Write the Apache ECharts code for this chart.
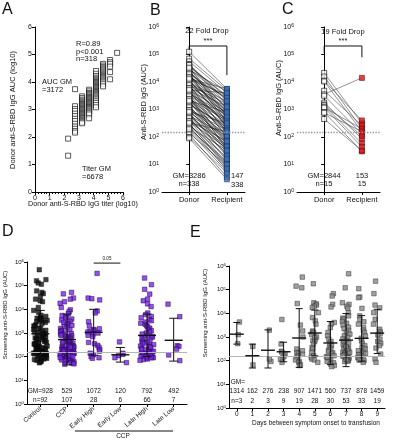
<!DOCTYPE html>
<html><head><meta charset="utf-8">
<script src="https://cdn.jsdelivr.net/npm/echarts@6/dist/echarts.min.js"></script>
<style>html,body{margin:0;padding:0;background:#fff}#c{width:402px;height:440px}</style>
</head><body><div id="c"></div>
<script>
const FONT = '"Liberation Sans", Arial, sans-serif';

// ---------- Panel A (log10 titer vs log10 AUC) ----------
const titerA = [2.26, 2.73, 3.21, 3.69, 4.16, 4.64, 5.12, 5.60];
const aucA0 = [1.94, 1.32];
const aucA1 = [3.74, 3.12, 3.02, 2.95, 2.85, 2.76, 2.66, 2.58, 2.48, 2.38, 2.30, 2.22, 2.16];
const aucA2 = [3.48, 3.42, 3.36, 3.32, 3.28, 3.24, 3.20, 3.17, 3.14, 3.11, 3.08, 3.05, 3.02, 2.99, 2.96, 2.93, 2.90, 2.87, 2.84, 2.81, 2.78, 2.75, 2.72, 2.69, 2.66, 2.62, 2.58, 2.54, 2.50];
const aucA3 = [3.72, 3.66, 3.60, 3.56, 3.52, 3.48, 3.45, 3.42, 3.39, 3.36, 3.33, 3.30, 3.27, 3.24, 3.21, 3.18, 3.15, 3.12, 3.09, 3.06, 3.03, 3.00, 2.96, 2.92, 2.88, 2.82, 2.68];
const aucA4 = [4.40, 4.30, 4.22, 4.16, 4.12, 4.08, 4.04, 4.00, 3.97, 3.94, 3.91, 3.88, 3.85, 3.82, 3.79, 3.76, 3.73, 3.70, 3.67, 3.64, 3.61, 3.58, 3.55, 3.52, 3.48, 3.44, 3.40, 3.36, 3.30, 3.24, 3.16, 3.08];
const aucA5 = [4.66, 4.60, 4.55, 4.50, 4.46, 4.42, 4.38, 4.34, 4.30, 4.26, 4.22, 4.18, 4.14, 4.10, 4.06, 4.02, 3.98, 3.92, 3.84];
const aucA6 = [4.80, 4.72, 4.66, 4.56, 4.36, 4.10];
const aucA7 = [5.06];
const aucA = [aucA0, aucA1, aucA2, aucA3, aucA4, aucA5, aucA6, aucA7];

// ---------- Panel B (paired donor / recipient AUC) ----------
const groupsBC = ['Donor', 'Recipient'];
const donorB = [126000, 71000, 56000, 45000, 35000, 32000, 28000, 25000, 22000, 20000, 18000, 16000, 14000, 12600, 11200, 10000, 8900, 7900, 7100, 6300, 5600, 5000, 4500, 4000, 3500, 3200, 2800, 2500, 2200, 2000, 1800, 1600, 1400, 1260, 1120, 1000, 890, 790, 710, 630, 560, 500, 450, 400, 355, 316, 280, 250, 200, 160, 140, 126, 100, 90, 40000, 16000, 7900, 4000, 2000, 1000, 500, 10000, 2800, 5600, 224, 20000,
  41700, 30200, 24000, 19000, 15100, 12000, 9550, 7600, 6030, 4790, 3800, 3020, 2400, 1900, 1510, 1200, 955, 760, 600, 480, 380, 300, 240, 190, 33000, 13200, 5250, 2090, 830, 330];
const recipB = [5600, 5000, 4000, 2000, 3200, 1000, 4500, 790, 1600, 2500, 500, 1260, 630, 3500, 320, 890, 400, 1600, 250, 560, 160, 790, 355, 200, 112, 450, 140, 79, 280, 56, 100, 220, 40, 71, 126, 28, 50, 89, 20, 35, 63, 14, 25, 11, 40, 8, 18, 6.3, 13, 5.6, 9, 3.5, 5, 2.9, 2800, 400, 710, 316, 180, 100, 45, 1000, 35, 280, 10, 700,
  1580, 2240, 1120, 355, 2800, 224, 2000, 141, 1260, 100, 630, 63, 400, 45, 251, 32, 178, 22, 112, 16, 71, 10, 32, 7.1, 560, 5600, 4000, 790, 316, 158];

// ---------- Panel C ----------
const donorC = [21400, 15800, 11200, 10500, 4800, 3550, 3160, 1780, 1510, 1410, 1200, 1170, 790, 760, 450];
const recipC = [316, 200, 400, 158, 263, 14100, 132, 87, 110, 58, 44, 200, 30, 158, 32];

const cutoff = 150;

// ---------- Panel D ----------
const catD = ['Control', 'CCP', 'Early High', 'Early Low', 'Late High', 'Late Low'];
const ctrlD = [470000, 180000, 160000, 130000, 115000, 60000, 52000, 46000, 36000, 27000, 23000, 21000, 12000, 9000, 7400,
  5600, 5000, 4500, 4200, 4000, 3800, 3600, 3400, 3200, 3000, 2800,
  2500, 2200, 2000, 1800, 1600, 1500, 1400, 1300, 1200, 1100, 1000,
  950, 900, 850, 800, 750, 700, 650, 620, 580, 540, 500, 470, 440, 410,
  380, 360, 340, 320, 300, 280, 260, 250, 240, 230, 220, 210, 200, 190, 180, 170, 165,
  160, 155, 150, 145, 140, 135, 130, 125, 120, 115, 110, 105, 100, 95, 90, 85, 80, 75, 70, 65, 60, 55, 130, 145];
const ccpD = [52000, 45000, 30000, 27000, 21000, 18000, 12000, 9500, 8000, 6500, 5500, 4800,
  4300, 3900, 3500, 3100, 2800, 2500, 2300, 2100, 1900, 1700, 1550, 1400, 1300, 1200, 1100, 1000,
  950, 900, 850, 800, 760, 720, 680, 640, 600, 570, 540, 510, 480, 450, 420, 400, 380, 360, 340, 320,
  300, 290, 280, 270, 260, 250, 240, 230, 220, 210, 200, 195, 190, 185, 180, 175, 170, 165, 160, 155,
  150, 145, 140, 135, 130, 125, 120, 115, 110, 105, 100, 97, 94, 91, 88, 85, 82, 79, 76, 73,
  70, 67, 64, 61, 58, 55, 52, 50, 48, 150, 140, 130, 120, 110, 100, 90, 200, 250, 300];
const earlyHighD = [330000, 30000, 28000, 25000, 8500, 7000, 3000, 2000, 1500, 1400, 1300, 1200, 1100, 1000, 900, 800, 700, 400, 350, 300, 250, 200, 170, 140, 120, 100, 90, 85];
const earlyLowD = [420, 140, 125, 110, 90, 56];
const lateHighD = [210000, 110000, 70000, 44000, 27000, 23000, 17000, 13000,
  7000, 6000, 5000, 4400, 3800, 3300, 2900, 2600, 2300, 2000,
  1800, 1600, 1400, 1250, 1100, 1000, 900, 800, 720, 650,
  590, 540, 490, 450, 410, 380, 350, 320, 300, 280,
  260, 240, 220, 200, 190, 180, 170, 160, 150, 140,
  130, 120, 110, 100, 95, 90, 85, 80, 75, 70,
  130, 150, 170, 200, 250, 110, 100, 90];
const lateLowD = [16600, 4900, 290, 275, 210, 118, 68];
const gmD = [928, 529, 1072, 120, 792, 492];
const nD = [92, 107, 28, 6, 66, 7];
const sdLoD = [98, 45, 115, 59, 100, 65];
const sdHiD = [9000, 6300, 10000, 245, 6300, 4200];

// ---------- Panel E ----------
const daysE = ['0', '1', '2', '3', '4', '5', '6', '7', '8', '9'];
const e0 = [4300, 1260, 525];
const e1 = [400, 66];
const e2 = [1950, 93, 117];
const e3 = [5500, 510, 250, 230, 182, 155, 132, 112, 85];
const e4 = [340000, 141000, 120000, 26000, 3200, 1800, 1000, 310, 263, 224, 204, 186, 162, 138, 107, 93, 85, 68, 62];
const e5 = [178000, 28000, 25000, 22400, 20000, 17400, 10700, 6600, 4800, 3500, 1800, 1600, 1500, 1260, 1000, 790, 710, 950, 650, 500, 360, 310, 224, 162, 138, 117, 107, 85];
const e6 = [68000, 54000, 24000, 18600, 4100, 3500, 2500, 1550, 1120, 810, 650, 540, 430, 360, 310, 280, 245, 215, 190, 162, 148, 129, 117, 107, 93, 81, 72, 62, 56, 138];
const e7 = [468000, 120000, 28000, 24000, 20000, 16600, 10700, 7800, 6300, 5600, 4500, 3800, 3200, 2600, 2240, 1900, 1580, 1320, 1120, 950, 830, 710, 630, 550, 480, 420, 370, 330, 300, 275, 250, 230, 214, 200, 186, 174, 162, 151, 141, 132, 126, 117, 112, 105, 100, 95, 91, 178, 224, 316, 398, 158, 112];
const e8 = [110000, 49000, 46000, 16200, 7800, 5600, 4400, 3500, 2500, 1950, 1550, 1120, 890, 690, 540, 430, 340, 280, 245, 214, 190, 162, 148, 129, 112, 100, 85, 263, 316, 200, 178, 138, 105];
const e9 = [229000, 68000, 22400, 17000, 10700, 5600, 3500, 2140, 1700, 1450, 1230, 810, 650, 540, 430, 340, 190, 117, 85];
const valuesE = [e0, e1, e2, e3, e4, e5, e6, e7, e8, e9];
const gmE = [1314, 162, 276, 238, 907, 1471, 560, 737, 878, 1459];
const nE = [3, 2, 3, 9, 19, 28, 30, 53, 33, 19];
const sdLoE = [500, 49, 49, 90, 52, 160, 70, 56, 95, 200];
const sdHiE = [4100, 500, 2000, 600, 15800, 13800, 4500, 9800, 8000, 14800];

// ---------- helpers ----------
const axisLineS = {show: true, lineStyle: {color: '#000', width: 1}};
const tickS = {show: true, length: 3, lineStyle: {color: '#000', width: 1}};
function logAxis(grid, fs) {
  return {type: 'log', logBase: 10, min: 1, max: 1e6, gridIndex: grid,
    axisLine: axisLineS, axisTick: tickS, splitLine: {show: false},
    axisLabel: {fontSize: fs, fontFamily: FONT, color: '#111', margin: 3,
      formatter: v => '10{s|' + Math.round(Math.log10(v)) + '}',
      rich: {s: {fontSize: fs * 0.72, fontFamily: FONT, color: '#111', verticalAlign: 'top', lineHeight: fs * 0.8}}}};
}
function pairAxis(grid) {
  return {type: 'value', min: -0.72, max: 1.48, gridIndex: grid,
    axisLine: axisLineS, splitLine: {show: false},
    axisTick: Object.assign({}, tickS, {customValues: [0, 1]}),
    axisLabel: {fontSize: 7.5, fontFamily: FONT, color: '#111', margin: 4, customValues: [0, 1],
      formatter: v => groupsBC[Math.round(v)] || ''}};
}
function cutLine(color, type, width) {
  return {silent: true, symbol: 'none', label: {show: false}, animation: false,
    lineStyle: {color: color, type: type, width: width}, data: [{yAxis: cutoff}]};
}
function gmSd(xi, yi, gm, lo, hi, gmHalf, capHalf) {
  return {type: 'custom', xAxisIndex: xi, yAxisIndex: yi, z: 5, silent: true,
    encode: {x: 0, y: 1},
    data: gm.map((g, i) => [i, g, lo[i], hi[i]]),
    renderItem: (params, api) => {
      const i = api.value(0);
      const p = api.coord([i, api.value(1)]);
      const pl = api.coord([i, api.value(2)]);
      const ph = api.coord([i, api.value(3)]);
      const st = {stroke: '#111', lineWidth: 1};
      return {type: 'group', children: [
        {type: 'line', shape: {x1: p[0], y1: ph[1], x2: p[0], y2: pl[1]}, style: st},
        {type: 'line', shape: {x1: p[0] - capHalf, y1: ph[1], x2: p[0] + capHalf, y2: ph[1]}, style: st},
        {type: 'line', shape: {x1: p[0] - capHalf, y1: pl[1], x2: p[0] + capHalf, y2: pl[1]}, style: st},
        {type: 'line', shape: {x1: p[0] - gmHalf, y1: p[1], x2: p[0] + gmHalf, y2: p[1]}, style: {stroke: '#111', lineWidth: 1.4}}
      ]};
    }};
}
function rowTexts(xi, yi, rows, fs) {
  return {type: 'custom', xAxisIndex: xi, yAxisIndex: yi, z: 10, silent: true,
    encode: {x: 0, y: 1},
    data: rows[0].texts.map((_, i) => [i, 1]),
    renderItem: (params, api) => {
      const i = api.value(0);
      const p = api.coord([i, 1]);
      return {type: 'group', children: rows.map(r => ({type: 'text', x: p[0] + (r.dx || 0), y: p[1] - r.dy,
        style: {text: r.texts[i], font: fs + 'px ' + FONT, fill: '#111', textAlign: r.align || 'center', textVerticalAlign: 'middle'}}))};
    }};
}
function T(x, y, text, size, align, rot) {
  return {type: 'text', x: x, y: y, rotation: rot || 0, silent: true,
    style: {text: text, font: size + 'px ' + FONT, fill: '#111', textAlign: align || 'center', textVerticalAlign: 'middle'}};
}
function L(x1, y1, x2, y2) {
  return {type: 'line', silent: true, shape: {x1: x1, y1: y1, x2: x2, y2: y2}, style: {stroke: '#111', lineWidth: 1}};
}
const sq = (fill, border, bw) => ({color: fill, borderColor: border, borderWidth: bw});

// ---------- build series data ----------
const scatterA = [];
aucA.forEach((col, k) => col.forEach(v => scatterA.push([titerA[k], v])));
const linesB = donorB.map((d, i) => ({coords: [[0, d], [1, recipB[i]]]}));
const linesC = donorC.map((d, i) => ({coords: [[0, d], [1, recipC[i]]]}));
const dataCtrl = ctrlD.map(v => [0, v]);
const dataPurple = [];
[ccpD, earlyHighD, earlyLowD, lateHighD, lateLowD].forEach((arr, k) => arr.forEach(v => dataPurple.push([k + 1, v])));
const dataE = [];
valuesE.forEach((arr, k) => arr.forEach(v => dataE.push([k, v])));

const option = {
  animation: false,
  backgroundColor: '#fff',
  grid: [
    {left: 35, top: 27, width: 88, height: 165},
    {left: 162, top: 27, width: 83, height: 165},
    {left: 297, top: 27, width: 83, height: 165},
    {left: 27, top: 262, width: 160, height: 142},
    {left: 229, top: 266, width: 156, height: 142}
  ],
  xAxis: [
    {type: 'value', min: 0, max: 6, interval: 1, gridIndex: 0, axisLine: axisLineS, axisTick: tickS,
      minorTick: {show: true, splitNumber: 5, length: 2, lineStyle: {color: '#000'}}, splitLine: {show: false},
      axisLabel: {fontSize: 7, fontFamily: FONT, color: '#111', margin: 3}},
    pairAxis(1),
    pairAxis(2),
    {type: 'category', data: catD, gridIndex: 3, jitter: 14, jitterOverlap: true,
      axisLine: axisLineS, axisTick: Object.assign({}, tickS, {alignWithLabel: true}),
      axisLabel: {fontSize: 6.5, fontFamily: FONT, color: '#111', rotate: 40, interval: 0, margin: 4}},
    {type: 'category', data: daysE, gridIndex: 4, jitter: 8, jitterOverlap: true,
      axisLine: axisLineS, axisTick: Object.assign({}, tickS, {alignWithLabel: true}),
      axisLabel: {fontSize: 6.5, fontFamily: FONT, color: '#111', interval: 0, margin: 3}}
  ],
  yAxis: [
    {type: 'value', min: 0, max: 6, interval: 1, gridIndex: 0, axisLine: axisLineS, axisTick: tickS, splitLine: {show: false},
      axisLabel: {fontSize: 7, fontFamily: FONT, color: '#111', margin: 3}},
    logAxis(1, 7), logAxis(2, 7), logAxis(3, 6), logAxis(4, 6)
  ],
  series: [
    // A
    {type: 'scatter', xAxisIndex: 0, yAxisIndex: 0, symbol: 'rect', symbolSize: 5,
      itemStyle: sq('#fff', '#000', 0.8), data: scatterA},
    // B
    {type: 'lines', coordinateSystem: 'cartesian2d', xAxisIndex: 1, yAxisIndex: 1, silent: true, z: 1,
      lineStyle: {color: '#111', width: 0.6, opacity: 0.8}, data: linesB},
    {type: 'scatter', xAxisIndex: 1, yAxisIndex: 1, symbol: 'rect', symbolSize: 5, z: 3,
      itemStyle: sq('#fff', '#000', 0.8), data: donorB.map(v => [0, v]),
      markLine: cutLine('#999', 'dotted', 1.4)},
    {type: 'scatter', xAxisIndex: 1, yAxisIndex: 1, symbol: 'rect', symbolSize: 5, z: 3,
      itemStyle: sq('#3d74c0', '#1a2f55', 0.7), data: recipB.map(v => [1, v])},
    {type: 'line', xAxisIndex: 1, yAxisIndex: 1, symbol: 'none', silent: true,
      lineStyle: {color: '#111', width: 1}, data: [[0, 112000], [0, 204000], [1, 204000], [1, 17800]]},
    // C
    {type: 'lines', coordinateSystem: 'cartesian2d', xAxisIndex: 2, yAxisIndex: 2, silent: true, z: 1,
      lineStyle: {color: '#555', width: 0.7, opacity: 0.9}, data: linesC},
    {type: 'scatter', xAxisIndex: 2, yAxisIndex: 2, symbol: 'rect', symbolSize: 5, z: 3,
      itemStyle: sq('#fff', '#000', 0.8), data: donorC.map(v => [0, v]),
      markLine: cutLine('#999', 'dotted', 1.4)},
    {type: 'scatter', xAxisIndex: 2, yAxisIndex: 2, symbol: 'rect', symbolSize: 5, z: 3,
      itemStyle: sq('#e3161c', '#4a0a0a', 0.7), data: recipC.map(v => [1, v])},
    {type: 'line', xAxisIndex: 2, yAxisIndex: 2, symbol: 'none', silent: true,
      lineStyle: {color: '#111', width: 1}, data: [[0, 112000], [0, 204000], [1, 204000], [1, 79000]]},
    // D
    {type: 'scatter', xAxisIndex: 3, yAxisIndex: 3, symbol: 'rect', symbolSize: 4.5, z: 3,
      itemStyle: sq('#111', '#000', 0.5), data: dataCtrl,
      markLine: cutLine('#b5b5b5', 'solid', 1.2)},
    {type: 'scatter', xAxisIndex: 3, yAxisIndex: 3, symbol: 'rect', symbolSize: 4.5, z: 3,
      itemStyle: sq('#7b24e8', '#1c0640', 0.6), data: dataPurple},
    gmSd(3, 3, gmD, sdLoD, sdHiD, 9, 4.5),
    {type: 'line', xAxisIndex: 3, yAxisIndex: 3, symbol: 'none', silent: true,
      lineStyle: {color: '#111', width: 1}, data: [[2, 900000], [3, 900000]]},
    rowTexts(3, 3, [
      {texts: gmD.map((g, i) => (i === 0 ? 'GM=' : '') + g), dy: 13},
      {texts: nD.map((n, i) => (i === 0 ? 'n=' : '') + n), dy: 4}], 6.5),
    // E
    {type: 'scatter', xAxisIndex: 4, yAxisIndex: 4, symbol: 'rect', symbolSize: 4.5, z: 3,
      itemStyle: sq('#8a8a8a', '#2e2e2e', 0.6), data: dataE,
      markLine: cutLine('#b5b5b5', 'solid', 1.2)},
    gmSd(4, 4, gmE, sdLoE, sdHiE, 7, 3.5),
    rowTexts(4, 4, [
      {texts: daysE.map((d, i) => i === 0 ? 'GM=' : ''), dy: 26, align: 'left', dx: -6},
      {texts: gmE.map(g => String(g)), dy: 17},
      {texts: nE.map((n, i) => (i === 0 ? 'n=' : '') + n), dy: 7}], 6.5)
  ],
  graphic: [
    T(2, 10, 'A', 16, 'left'), T(150, 11, 'B', 16, 'left'), T(282, 10, 'C', 16, 'left'),
    T(2, 232, 'D', 16, 'left'), T(190, 233, 'E', 16, 'left'),
    // A annotations
    T(13, 110, 'Donor anti-S-RBD IgG AUC (log10)', 7.5, 'center', Math.PI / 2),
    T(83, 204, 'Donor anti-S-RBD IgG titer (log10)', 7.2),
    T(76, 44, 'R=0.89', 7.5, 'left'), T(76, 51.5, 'p<0.001', 7.5, 'left'), T(76, 59, 'n=318', 7.5, 'left'),
    T(42, 82, 'AUC GM', 7.5, 'left'), T(42, 90, '=3172', 7.5, 'left'),
    T(82, 169, 'Titer GM', 7.5, 'left'), T(82, 177, '=6678', 7.5, 'left'),
    // B annotations
    T(144, 102, 'Anti-S-RBD IgG (AUC)', 7.5, 'center', Math.PI / 2),
    T(207, 31, '22 Fold Drop', 7.5), T(208, 41, '***', 7.5),
    T(189, 176, 'GM=3286', 7.5), T(189, 184, 'n=338', 7.5),
    T(231, 176, '147', 7.5, 'left'), T(231, 184.5, '338', 7.5, 'left'),
    // C annotations
    T(279, 98, 'Anti-S-RBD IgG (AUC)', 7.5, 'center', Math.PI / 2),
    T(343, 32, '19 Fold Drop', 7.5), T(343, 41, '***', 7.5),
    T(324, 176, 'GM=2844', 7.5), T(324, 184, 'n=15', 7.5),
    T(362, 176, '153', 7.5), T(362, 184, '15', 7.5),
    // D annotations
    T(5, 315, 'Screening anti-S-RBD IgG (AUC)', 6, 'center', Math.PI / 2),
    T(107, 259, '0.05', 4.5),
    L(75, 431, 173, 431), T(123, 436.5, 'CCP', 6.5),
    // E annotations
    T(205, 313, 'Screening anti-S-RBD IgG (AUC)', 6, 'center', Math.PI / 2),
    T(316, 423, 'Days between symptom onset to transfusion', 6.5)
  ]
};
const chart = echarts.init(document.getElementById('c'), null, {renderer: 'canvas'});
chart.setOption(option);
</script></body></html>
